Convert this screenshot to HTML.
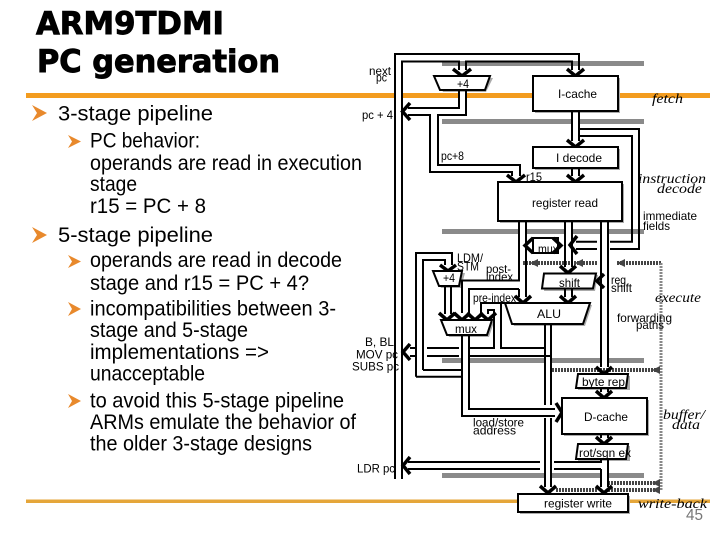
<!DOCTYPE html>
<html><head><meta charset="utf-8"><style>
html,body{margin:0;padding:0;background:#fff;width:720px;height:540px;overflow:hidden}
svg{display:block}
.l{fill:none;stroke:#000;stroke-width:2;stroke-linejoin:miter}
.h{fill:none;stroke:#000;stroke-width:3.500}
.b{font-family:"Liberation Sans",sans-serif;font-size:21px;fill:#000}
.s{font-family:"Liberation Sans",sans-serif;font-size:12px;fill:#000}
.i{font-family:"Liberation Serif",serif;font-style:italic;font-size:14px;fill:#000}
.box{fill:#fff;stroke:#000;stroke-width:2}
.sh{fill:#aaa}
.f{fill:none;stroke:#444;stroke-width:4;stroke-dasharray:2 1}
.fv{fill:none;stroke:#888;stroke-width:3;stroke-dasharray:2 1}
</style></head><body>
<svg width="720" height="540" viewBox="0 0 720 540" xmlns="http://www.w3.org/2000/svg">
<rect x="26" y="93" width="684" height="5" fill="#f39c1f"/>
<rect x="26" y="499.500" width="684" height="3.500" fill="#e5a63a"/>
<g fill="#8a8a8a"><rect x="442" y="61" width="202" height="5"/><rect x="442" y="119" width="202" height="5"/><rect x="442" y="229" width="202" height="5"/><rect x="442" y="358" width="202" height="5"/><rect x="442" y="473" width="202" height="5"/></g>
<!-- white interiors of the double lines where they cross the bands -->
<g fill="#fff">
<rect x="395" y="92" width="7" height="7"/><rect x="459" y="92" width="7" height="7"/>
<rect x="572" y="118" width="7" height="7"/>
<rect x="519" y="228" width="7" height="7"/><rect x="565" y="228" width="7" height="7"/><rect x="601" y="228" width="7" height="7"/>
<rect x="462" y="357" width="7" height="7"/><rect x="545" y="357" width="6" height="7"/><rect x="601" y="357" width="7" height="7"/>
<rect x="545" y="472" width="6" height="7"/><rect x="601" y="472" width="7" height="7"/>
<rect x="466" y="60" width="106" height="1"/>
</g>

<g font-weight="bold" font-family="'DejaVu Sans',sans-serif" font-size="31.5" stroke="#000" stroke-width="0.9">
<text x="36" y="34" textLength="188" lengthAdjust="spacingAndGlyphs">ARM9TDMI</text>
<text x="37" y="72" textLength="243" lengthAdjust="spacingAndGlyphs">PC generation</text>
</g>
<g class="b">
<text class="b" x="58" y="120.500" textLength="155" lengthAdjust="spacingAndGlyphs">3-stage pipeline</text>
<text class="b" x="90" y="147.500" textLength="110" lengthAdjust="spacingAndGlyphs">PC behavior:</text>
<text class="b" x="90" y="170" textLength="272" lengthAdjust="spacingAndGlyphs">operands are read in execution</text>
<text class="b" x="90" y="191" textLength="47" lengthAdjust="spacingAndGlyphs">stage</text>
<text class="b" x="90" y="213" textLength="116" lengthAdjust="spacingAndGlyphs">r15 = PC + 8</text>
<text class="b" x="58" y="242" textLength="155" lengthAdjust="spacingAndGlyphs">5-stage pipeline</text>
<text class="b" x="90" y="267" textLength="252" lengthAdjust="spacingAndGlyphs">operands are read in decode</text>
<text class="b" x="90" y="290" textLength="219" lengthAdjust="spacingAndGlyphs">stage and r15 = PC + 4?</text>
<text class="b" x="90" y="315.500" textLength="246" lengthAdjust="spacingAndGlyphs">incompatibilities between 3-</text>
<text class="b" x="90" y="337" textLength="158" lengthAdjust="spacingAndGlyphs">stage and 5-stage</text>
<text class="b" x="90" y="359" textLength="179" lengthAdjust="spacingAndGlyphs">implementations =&gt;</text>
<text class="b" x="90" y="380.500" textLength="115" lengthAdjust="spacingAndGlyphs">unacceptable</text>
<text class="b" x="90" y="407.500" textLength="254" lengthAdjust="spacingAndGlyphs">to avoid this 5-stage pipeline</text>
<text class="b" x="90" y="429" textLength="266" lengthAdjust="spacingAndGlyphs">ARMs emulate the behavior of</text>
<text class="b" x="90" y="450.500" textLength="222" lengthAdjust="spacingAndGlyphs">the older 3-stage designs</text>
</g>
<g fill="#e8892c">
<path d="M32 105L47 113L32 121L37 113Z"/>
<path d="M32 227L47 235L32 243L37 235Z"/>
<path d="M68 135L81 141.500L68 148L72 141.500Z"/>
<path d="M68 255L81 261.500L68 268L72 261.500Z"/>
<path d="M68 302L81 309L68 316L72 309Z"/>
<path d="M68 394L81 401L68 408L72 401Z"/>
</g>

<!-- forwarding -->
<path class="f" d="M523 263H597M617 263H662M552 370H658M608 483H658M556 490H598M608 490H658"/>
<path class="fv" d="M661 263V490"/>
<path d="M530 263l8-4v8zM575 263l8-4v8zM617 263l8-4v8zM652 370l8-4v8zM652 483l8-4v8zM652 490l8-4v8z" fill="#444"/>

<!-- shadows -->
<g class="sh">
<polygon points="436,78 493,78 486,92 443,92"/>
<rect x="535" y="78" width="85" height="35"/>
<rect x="535" y="149" width="85" height="21"/>
<rect x="500" y="184" width="124" height="39"/>
<polygon points="435,273 465,273 461,288 441,288"/>
<polygon points="546,275 598,275 595,291 544,291"/>
<polygon points="507,305 592,305 585,326 514,326"/>
<polygon points="443,322 494,322 489,337 449,337"/>
<rect x="578" y="376" width="52" height="14"/>
<rect x="564" y="400" width="85" height="36"/>
<rect x="578" y="446" width="52" height="15"/>
<rect x="520" y="496" width="110" height="18"/>
</g>

<!-- rails -->
<path class="l" d="M395 479V54H579V70M402 479V61.500H459V70M466 70V61.500H572V70"/>
<!-- +4 out -->
<path class="l" d="M459 90V108H408M466 90V115H438V165H520V176M408 115H430V172H512V176"/>
<!-- i-cache down -->
<path class="l" d="M572 111V141M579 111V141M579 129H639V249H610M579 136H632V241.700H610"/>
<path class="l" d="M597 241.700H576M597 249H576"/>
<path class="l" d="M572 168V176M579 168V176"/>
<!-- reg read out -->
<path class="l" d="M519 221V280.500H462V313M526 221V297M519 289H469V313M519 289V297"/>
<path class="l" d="M565 221V267M572 221V267M565 289V297M572 289V297"/>
<path class="l" d="M601 221V367M608 221V367"/>
<!-- small mux -->
<rect x="533" y="238" width="25" height="15" class="box"/>
<!-- lower +4 -->
<path class="l" d="M416 376.700V253H452V265M423 370V260H445V265M416 376.700H462M423 370H462"/>
<path class="l" d="M445 286V314M451 286V314"/>
<path class="l" d="M481 314V303H505M481 303H501V348H545M488 314V310H494V348H469M459 348H427M459 356H427M469 356H551"/>
<path class="l" d="M410 348H416M410 356H416"/>
<!-- ALU out -->
<path class="l" d="M545 324V405M551 324V405M545 418V487M551 418V487"/>
<!-- mux out -->
<path class="l" d="M462 335V416H555M469 335V409H555"/>
<!-- to dcache -->
<path class="l" d="M601 388V392M608 388V392M601 434V438M608 434V438"/>
<!-- rot out -->
<path class="l" d="M608 459V487M601 459V462H554M540 462H408M601 469V487M601 469H554M540 469H408"/>

<!-- arrowheads -->
<g class="h">
<path d="M453 69L462 76L471 69"/>
<path d="M567 69L575.500 76L584 69"/>
<path d="M567 140L575.500 147L584 140"/>
<path d="M567 175L575.500 182L584 175"/>
<path d="M507 175L516 182L525 175"/>
<path d="M410 103L402.500 111.500L410 120"/>
<path d="M577 236L570 245L577 254"/>
<path d="M410 344L403 352L410 360"/>
<path d="M410 457L403 465.500L410 474"/>
<path d="M440 265L448 271L456 265"/>
<path d="M515 296L523 303L531 296"/>
<path d="M560 296L568 303L576 296"/>
<path d="M560 266L568 273L576 266"/>
<path d="M439 313L447 320L455 313"/>
<path d="M454 313L462 320L470 313"/>
<path d="M467 313L475 320L483 313"/>
<path d="M480 313L488 320L496 313"/>
<path d="M596 367L604 374L612 367"/>
<path d="M596 391L604 398L612 391"/>
<path d="M596 437L604 444L612 437"/>
<path d="M596 486L604 493L612 486"/>
<path d="M540 486L548 493L556 486"/>
<path d="M556 403L562 412.500L556 422"/>
<path d="M533 238L525 245.500L533 253"/>
<path d="M553 238L561 245.500L553 253"/>
<path d="M604 274L597 281L604 288"/>
</g>

<!-- boxes -->
<polygon class="box" points="434,76 490,76 485,90 440,90"/>
<rect class="box" x="533" y="76" width="85" height="35"/>
<rect class="box" x="533" y="147" width="85" height="21"/>
<rect class="box" x="498" y="182" width="124" height="39"/>
<polygon class="box" points="433,271 462,271 459,286 439,286"/>
<polygon class="box" points="544,273.500 596,273.500 593,288.500 542,288.500"/>
<polygon class="box" points="505,303 590,303 583,324 512,324"/>
<polygon class="box" points="441,320 492,320 487,335 447,335"/>
<polygon class="box" points="578,374 628,374 626,388 576,388"/>
<rect class="box" x="562" y="398" width="85" height="36"/>
<polygon class="box" points="578,444 628,444 626,459 576,459"/>
<rect class="box" x="518" y="494" width="110" height="18"/>

<!-- labels -->
<g class="s">
<text class="s" x="369" y="75" textLength="22" lengthAdjust="spacingAndGlyphs">next</text>
<text class="s" x="376" y="81.500" textLength="11" lengthAdjust="spacingAndGlyphs">pc</text>
<text class="s" x="362" y="119" textLength="31" lengthAdjust="spacingAndGlyphs">pc + 4</text>
<text class="s" x="457" y="88" textLength="12" lengthAdjust="spacingAndGlyphs">+4</text>
<text class="s" x="558" y="98" textLength="39" lengthAdjust="spacingAndGlyphs">I-cache</text>
<text class="s" x="556" y="162" textLength="46" lengthAdjust="spacingAndGlyphs">I decode</text>
<text class="s" x="441" y="160" textLength="23" lengthAdjust="spacingAndGlyphs">pc+8</text>
<text class="s" x="526" y="181" textLength="16" lengthAdjust="spacingAndGlyphs">r15</text>
<text class="s" x="532" y="207" textLength="66" lengthAdjust="spacingAndGlyphs">register read</text>
<text class="s" x="643" y="220" textLength="54" lengthAdjust="spacingAndGlyphs">immediate</text>
<text class="s" x="643" y="230" textLength="27" lengthAdjust="spacingAndGlyphs">fields</text>
<text class="s" x="457" y="262" textLength="26" lengthAdjust="spacingAndGlyphs">LDM/</text>
<text class="s" x="457" y="270.500" textLength="22" lengthAdjust="spacingAndGlyphs">STM</text>
<text class="s" x="486" y="273" textLength="25" lengthAdjust="spacingAndGlyphs">post-</text>
<text class="s" x="486" y="281" textLength="27" lengthAdjust="spacingAndGlyphs">index</text>
<text class="s" x="538" y="253" textLength="20" lengthAdjust="spacingAndGlyphs">mux</text>
<text class="s" x="559" y="287" textLength="21" lengthAdjust="spacingAndGlyphs">shift</text>
<text class="s" x="611" y="284" textLength="15" lengthAdjust="spacingAndGlyphs">reg</text>
<text class="s" x="611" y="292" textLength="21" lengthAdjust="spacingAndGlyphs">shift</text>
<text class="s" x="473" y="302" textLength="43" lengthAdjust="spacingAndGlyphs">pre-index</text>
<text class="s" x="537" y="318" textLength="24" lengthAdjust="spacingAndGlyphs">ALU</text>
<text class="s" x="617" y="322" textLength="55" lengthAdjust="spacingAndGlyphs">forwarding</text>
<text class="s" x="636" y="329" textLength="28" lengthAdjust="spacingAndGlyphs">paths</text>
<text class="s" x="443" y="282" textLength="12" lengthAdjust="spacingAndGlyphs">+4</text>
<text class="s" x="455" y="333" textLength="22" lengthAdjust="spacingAndGlyphs">mux</text>
<text class="s" x="365" y="346" textLength="29" lengthAdjust="spacingAndGlyphs">B, BL</text>
<text class="s" x="356" y="358.500" textLength="42" lengthAdjust="spacingAndGlyphs">MOV pc</text>
<text class="s" x="352" y="370.500" textLength="47" lengthAdjust="spacingAndGlyphs">SUBS pc</text>
<text class="s" x="582" y="386" textLength="43" lengthAdjust="spacingAndGlyphs">byte rep</text>
<text class="s" x="584" y="421" textLength="44" lengthAdjust="spacingAndGlyphs">D-cache</text>
<text class="s" x="579" y="457" textLength="52" lengthAdjust="spacingAndGlyphs">rot/sgn ex</text>
<text class="s" x="473" y="426.500" textLength="51" lengthAdjust="spacingAndGlyphs">load/store</text>
<text class="s" x="473" y="434.500" textLength="43" lengthAdjust="spacingAndGlyphs">address</text>
<text class="s" x="357" y="472.500" textLength="38" lengthAdjust="spacingAndGlyphs">LDR pc</text>
<text class="s" x="544" y="507.500" textLength="68" lengthAdjust="spacingAndGlyphs">register write</text>
</g>
<text class="i" x="652" y="103" textLength="31" lengthAdjust="spacingAndGlyphs">fetch</text>
<text class="i" x="638" y="183" textLength="68" lengthAdjust="spacingAndGlyphs">instruction</text>
<text class="i" x="657" y="193" textLength="45" lengthAdjust="spacingAndGlyphs">decode</text>
<text class="i" x="655" y="302" textLength="46" lengthAdjust="spacingAndGlyphs">execute</text>
<text class="i" x="663" y="419" textLength="42" lengthAdjust="spacingAndGlyphs">buffer/</text>
<text class="i" x="672" y="429" textLength="28" lengthAdjust="spacingAndGlyphs">data</text>
<text class="i" x="638" y="508" textLength="69" lengthAdjust="spacingAndGlyphs">write-back</text>
<text x="686" y="520" font-family="'Liberation Sans',sans-serif" font-size="16" fill="#777" textLength="17" lengthAdjust="spacingAndGlyphs">45</text>
</svg>
</body></html>
